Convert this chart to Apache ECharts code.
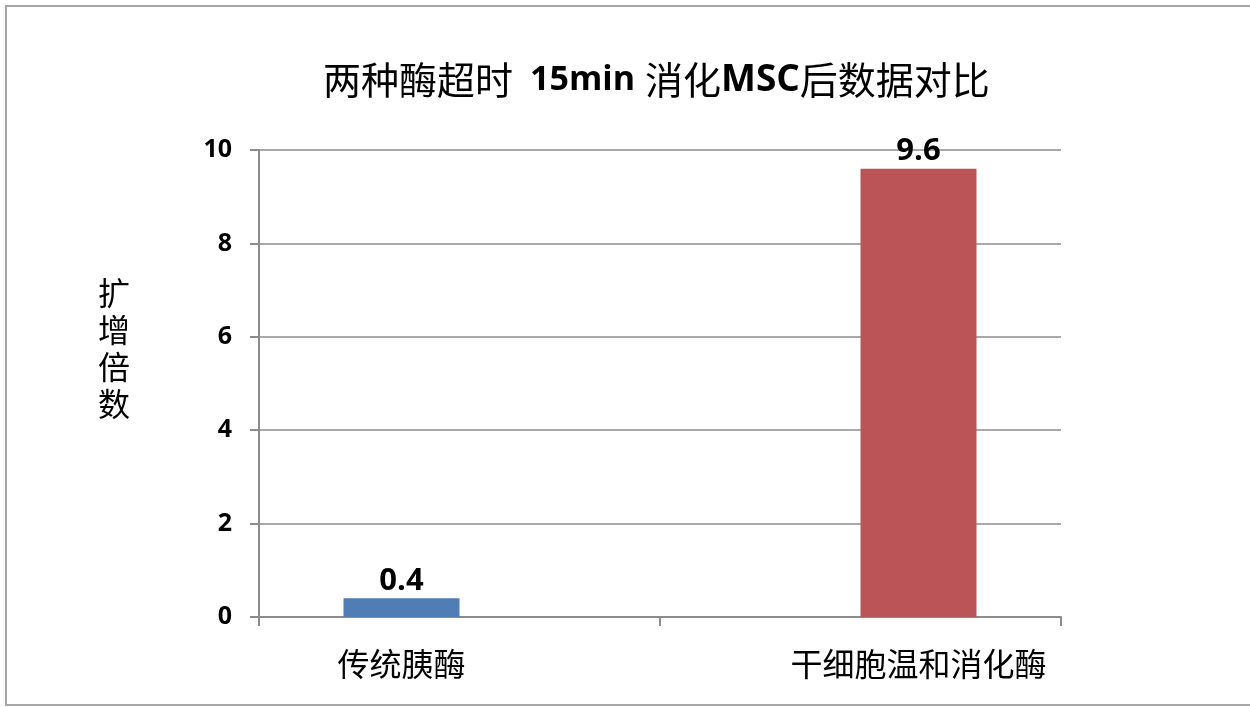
<!DOCTYPE html>
<html>
<head>
<meta charset="utf-8">
<script src="https://cdn.jsdelivr.net/npm/echarts@6/dist/echarts.min.js"></script>
<style>
html,body{margin:0;padding:0;background:#fff;}
#main{width:1250px;height:707px;}
</style>
</head>
<body>
<div id="main"></div>
<script>
const categories = ['传统胰酶', '干细胞温和消化酶'];
const seriesNames = ['传统胰酶', '干细胞温和消化酶'];
const traditionalValues = [0.4, '-'];
const gentleValues = ['-', 9.6];
const yTicks = [0, 2, 4, 6, 8, 10];

const CJK = '"Noto Sans CJK SC", "Noto Sans", sans-serif';
const LAT = '"Open Sans", "Liberation Sans", sans-serif';

const chart = echarts.init(document.getElementById('main'), null, {renderer: 'canvas'});
const option = {
  backgroundColor: '#fff',
  animation: false,
  title: {
    text: '{c|两种酶超时}{n|15min}{c|消化}{l|MSC}{c|后数据对比}',
    left: 318,
    top: 56,
    textStyle: {
      rich: {
        c: {fontFamily: CJK, fontSize: 38, color: '#000', fontWeight: 'normal'},
        n: {fontFamily: LAT, fontSize: 34, color: '#000', fontWeight: 'bold', padding: [0, 10, 0, 17]},
        l: {fontFamily: LAT, fontSize: 37, color: '#000', fontWeight: 'bold'}
      }
    }
  },
  graphic: [
    {
      type: 'rect',
      shape: {x: 6, y: 6, width: 1300, height: 699},
      style: {fill: 'none', stroke: '#a6a6a6', lineWidth: 2},
      silent: true
    },
    {
      type: 'text',
      left: 98,
      top: 274,
      style: {
        text: '扩\n增\n倍\n数',
        font: 'normal 32px ' + CJK,
        fill: '#000',
        lineHeight: 37
      }
    }
  ],
  grid: {left: 259, right: 189, top: 150, bottom: 90},
  xAxis: {
    type: 'category',
    data: categories,
    axisLine: {show: true, lineStyle: {color: '#8c8c8c', width: 2}},
    axisTick: {show: true, length: 9, lineStyle: {color: '#8c8c8c', width: 2}},
    axisLabel: {
      margin: 31,
      formatter: function (v, i) { return i === 0 ? '{a|' + v + '}' : '{b|' + v + '}'; },
      rich: {
        a: {fontFamily: CJK, fontSize: 32, color: '#000', padding: [0, 116, 0, 0]},
        b: {fontFamily: CJK, fontSize: 32, color: '#000', padding: [0, 0, 0, 116]}
      }
    }
  },
  yAxis: {
    type: 'value',
    min: yTicks[0],
    max: yTicks[yTicks.length - 1],
    interval: 2,
    axisLine: {show: true, lineStyle: {color: '#8c8c8c', width: 2}},
    axisTick: {show: true, length: 9, lineStyle: {color: '#8c8c8c', width: 2}},
    axisLabel: {margin: 27, fontFamily: LAT, fontWeight: 'bold', fontSize: 25, color: '#000'},
    splitLine: {show: true, lineStyle: {color: '#8c8c8c', width: 1.5}}
  },
  series: [
    {
      name: seriesNames[0],
      type: 'bar',
      data: traditionalValues,
      barWidth: 116,
      barGap: '0%',
      itemStyle: {color: '#4f7db4'},
      label: {show: true, position: 'top', distance: 2, fontFamily: LAT, fontWeight: 'bold', fontSize: 31, color: '#000'}
    },
    {
      name: seriesNames[1],
      type: 'bar',
      data: gentleValues,
      barWidth: 116,
      barGap: '0%',
      itemStyle: {color: '#bb5457'},
      label: {show: true, position: 'top', distance: 2, fontFamily: LAT, fontWeight: 'bold', fontSize: 31, color: '#000'}
    }
  ]
};
chart.setOption(option);
</script>
</body>
</html>
